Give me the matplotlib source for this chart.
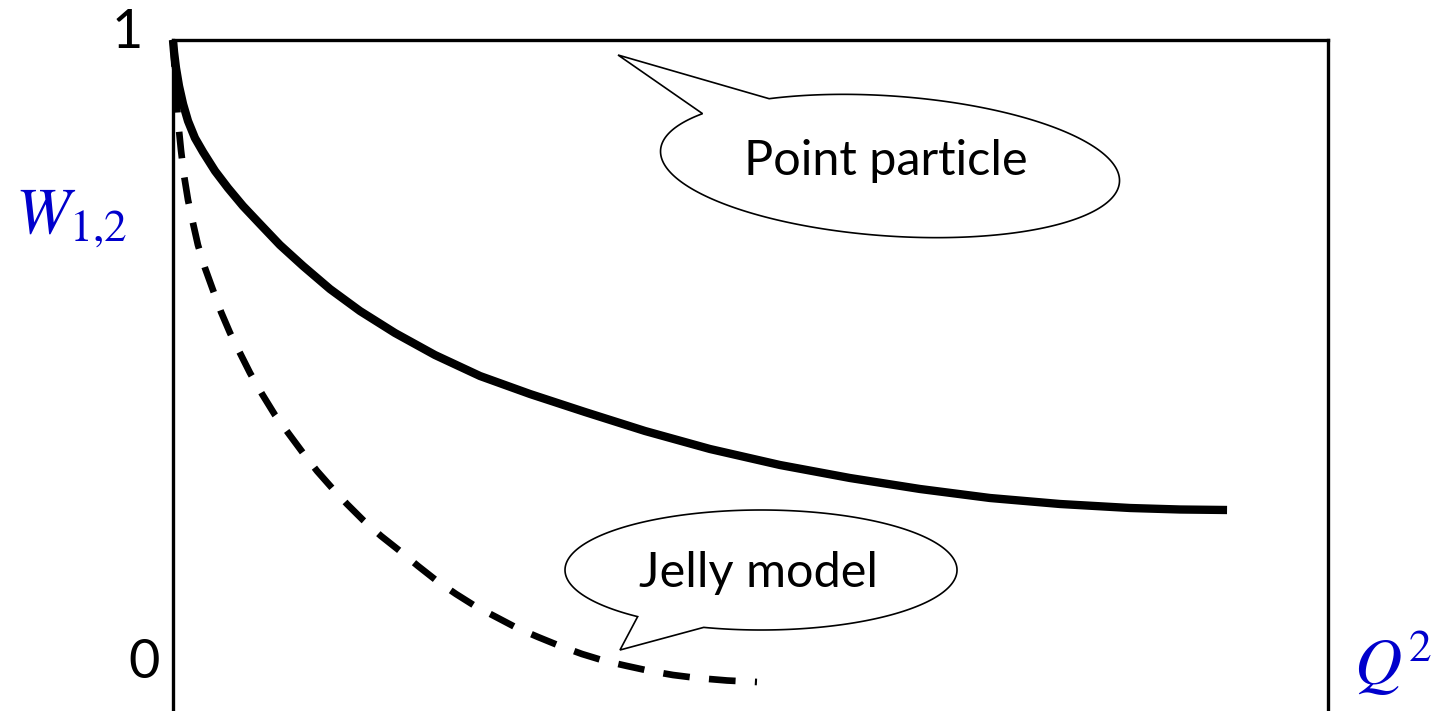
import matplotlib
matplotlib.use("Agg")
import matplotlib.pyplot as plt
import numpy as np
from matplotlib.patches import Polygon
from matplotlib.transforms import IdentityTransform

# ---------------- data (normalised units) ----------------
q2_point = [0.0000, 0.0009, 0.0026, 0.0052, 0.0087, 0.0130, 0.0190, 0.0260, 0.0364,
            0.0476, 0.0606, 0.0753, 0.0926, 0.1126, 0.1359, 0.1619, 0.1922, 0.2268,
            0.2658, 0.3091, 0.3567, 0.4087, 0.4649, 0.5255, 0.5861, 0.6468, 0.7074,
            0.7680, 0.8286, 0.8719, 0.9126]
w_point = [1.0000, 0.9808, 0.9552, 0.9264, 0.8976, 0.8704, 0.8432, 0.8208, 0.7904,
           0.7632, 0.7344, 0.7056, 0.6720, 0.6384, 0.6016, 0.5664, 0.5312, 0.4960,
           0.4624, 0.4336, 0.4048, 0.3744, 0.3456, 0.3200, 0.2992, 0.2816, 0.2672,
           0.2576, 0.2512, 0.2488, 0.2480]

q2_jelly = [0.0000, 0.0009, 0.0026, 0.0043, 0.0069, 0.0095, 0.0130, 0.0173, 0.0216,
            0.0277, 0.0346, 0.0416, 0.0494, 0.0580, 0.0667, 0.0771, 0.0883, 0.1004,
            0.1126, 0.1247, 0.1377, 0.1506, 0.1645, 0.1801, 0.1965, 0.2121, 0.2286,
            0.2450, 0.2615, 0.2797, 0.2978, 0.3160, 0.3351, 0.3541, 0.3740, 0.3931,
            0.4130, 0.4329, 0.4537, 0.4797, 0.5056]
w_jelly = [1.0000, 0.9680, 0.9200, 0.8720, 0.8240, 0.7840, 0.7440, 0.7072, 0.6720,
           0.6352, 0.6000, 0.5648, 0.5312, 0.4992, 0.4672, 0.4336, 0.4000, 0.3696,
           0.3392, 0.3104, 0.2832, 0.2576, 0.2320, 0.2064, 0.1824, 0.1584, 0.1344,
           0.1136, 0.0944, 0.0768, 0.0592, 0.0448, 0.0304, 0.0176, 0.0064, -0.0016,
           -0.0096, -0.0160, -0.0208, -0.0248, -0.0272]

y_tick_labels = ["0", "1"]
label_point = "Point particle"
label_jelly = "Jelly model"
y_axis_label = r"$W_{1{,}2}$"
x_axis_label = r"$Q^2$"

# ---------------- figure ----------------
plt.rcParams["mathtext.fontset"] = "stix"
FONT = ["Lato", "DejaVu Sans"]
BLUE = "#0000CC"

W, H = 1434, 711
fig = plt.figure(figsize=(W / 100, H / 100), dpi=100)
left_px, right_px, top_px = 173, 1328, 40
ax = fig.add_axes([left_px / W, 0.0, (right_px - left_px) / W, (H - top_px) / H])
ax.set_xlim(0, 1)
ax.set_ylim(-0.0736, 1.0)
for s in ["left", "right", "top"]:
    ax.spines[s].set_linewidth(2.4)
    ax.spines[s].set_color("black")
ax.spines["bottom"].set_visible(False)
ax.set_xticks([])
ax.set_yticks([])

# curves
ax.plot(q2_point, w_point, color="black", lw=6.0, solid_capstyle="butt",
        solid_joinstyle="round", clip_on=False, zorder=3)
ax.plot(q2_jelly, w_jelly, color="black", lw=4.8, dashes=[4.0, 2.9],
        dash_capstyle="butt", clip_on=False, zorder=3)

# y "tick" labels
ax.annotate(y_tick_labels[1], xy=(0, 1), xytext=(-30, 7), textcoords="offset pixels",
            ha="right", va="center", fontsize=39, family=FONT)
ax.annotate(y_tick_labels[0], xy=(0, 0), xytext=(-13, 2), textcoords="offset pixels",
            ha="right", va="center", fontsize=39, family=FONT)

# axis labels (math, blue)
fig.text(15 / W, (H - 233) / H, y_axis_label, color=BLUE, fontsize=47,
         ha="left", va="baseline")
fig.text(1432 / W, (H - 685) / H, x_axis_label, color=BLUE, fontsize=47,
         ha="right", va="baseline")


def callout(ax, center, a_px, b_px, tilt, a_from, a_to, tip):
    """Speech bubble: (tilted) ellipse outline in pixels from a_from around to a_to
    (degrees), then to the tail tip. center and tip are in data coordinates."""
    cx, cy = ax.transData.transform(center)
    tx, ty = ax.transData.transform(tip)
    t = np.radians(np.linspace(a_from, a_to, 400))
    ex, ey = a_px * np.cos(t), b_px * np.sin(t)
    r = np.radians(tilt)
    xs = cx + ex * np.cos(r) - ey * np.sin(r)
    ys = cy + ex * np.sin(r) + ey * np.cos(r)
    pts = np.column_stack([np.append(xs, tx), np.append(ys, ty)])
    poly = Polygon(pts, closed=True, facecolor="white", edgecolor="black",
                   lw=1.2, zorder=4, transform=IdentityTransform(), clip_on=False)
    ax.add_artist(poly)


# Point particle bubble
callout(ax, (0.6208, 0.7984), 230, 70, -4, 146, 123 + 360, (0.3853, 0.976))
ax.text(0.617, 0.784, label_point, ha="center", va="baseline", fontsize=35,
        family=FONT, zorder=5)

# Jelly model bubble
callout(ax, (0.5091, 0.152), 196, 60, 0, 253, 231 + 360, (0.387, 0.024))
ax.text(0.5065, 0.1248, label_jelly, ha="center", va="baseline", fontsize=35,
        family=FONT, zorder=5)

fig.savefig("out.png", dpi=100)
